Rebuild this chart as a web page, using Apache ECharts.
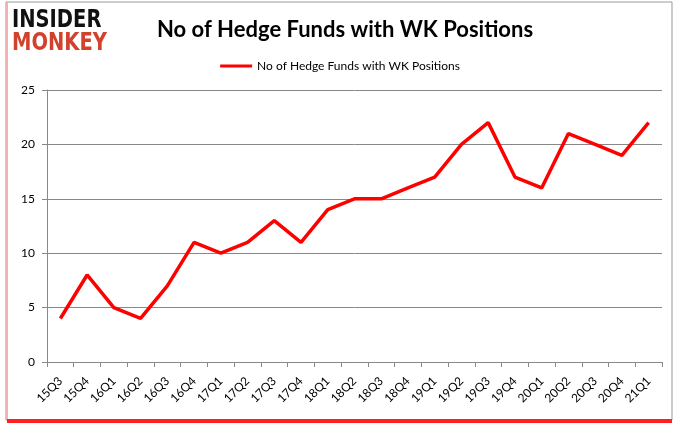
<!DOCTYPE html>
<html><head><meta charset="utf-8">
<script src="https://cdn.jsdelivr.net/npm/echarts@6/dist/echarts.min.js"></script>
<style>html,body{margin:0;padding:0;background:#fff}#c{width:680px;height:433px}</style>
</head><body><div id="c"></div>
<script>
const categories = ['15Q3','15Q4','16Q1','16Q2','16Q3','16Q4','17Q1','17Q2','17Q3','17Q4','18Q1','18Q2','18Q3','18Q4','19Q1','19Q2','19Q3','19Q4','20Q1','20Q2','20Q3','20Q4','21Q1'];
const hedgeFunds = [4,8,5,4,7,11,10,11,13,11,14,15,15,16,17,20,22,17,16,21,20,19,22];
const seriesName = 'No of Hedge Funds with WK Positions';
const titleText = 'No of Hedge Funds with WK Positions';

const chart = echarts.init(document.getElementById('c'), null, {renderer:'canvas'});
chart.setOption({
  animation:false,
  backgroundColor:'#fff',
  title:{text:titleText,left:340,textAlign:'center',top:14,
    textStyle:{fontFamily:'Lato',fontWeight:'bold',fontSize:22,color:'#000'}},
  legend:{top:55,left:'center',itemWidth:32,itemHeight:3,icon:'rect',itemGap:4,
    textStyle:{fontFamily:'Lato',fontSize:12,color:'#000'},data:[seriesName]},
  graphic:[
    {type:'rect',shape:{x:6,y:2,width:666,height:418},style:{fill:'none',stroke:'#999',lineWidth:1},z:-1},
    {type:'rect',shape:{x:7,y:419,width:665,height:4},style:{fill:'#ff2020'},z:-1},
    {type:'rect',shape:{x:6,y:3,width:2,height:416},style:{fill:'#f4b0b0'},z:-1},
    {type:'text',x:12,y:8,scaleX:0.78,scaleY:1,style:{text:'INSIDER',fontFamily:'DejaVu Sans',fontWeight:'bold',fontSize:25,fill:'#111'}},
    {type:'text',x:12,y:31,scaleX:0.78,scaleY:1,style:{text:'MONKEY',fontFamily:'DejaVu Sans',fontWeight:'bold',fontSize:25,fill:'#d2412c'}}
  ],
  grid:{left:47,right:18,top:90,bottom:71,containLabel:false},
  xAxis:{type:'category',data:categories,boundaryGap:true,
    axisLine:{lineStyle:{color:'#888'}},
    axisTick:{show:true,alignWithLabel:false,length:5,lineStyle:{color:'#888'}},
    axisLabel:{rotate:45,fontFamily:'Lato',fontSize:12,color:'#000',margin:17,interval:0},
    splitLine:{show:false}},
  yAxis:{type:'value',min:0,max:25,interval:5,
    axisLine:{show:true,lineStyle:{color:'#888'}},
    axisTick:{show:true,length:5,lineStyle:{color:'#888'}},
    axisLabel:{fontFamily:'Lato',fontSize:12,color:'#000',margin:12},
    splitLine:{lineStyle:{color:'#888'}}},
  series:[{name:seriesName,type:'line',data:hedgeFunds,symbol:'none',
    lineStyle:{color:'#ff0000',width:3.5},itemStyle:{color:'#ff0000'}}]
});
</script></body></html>
